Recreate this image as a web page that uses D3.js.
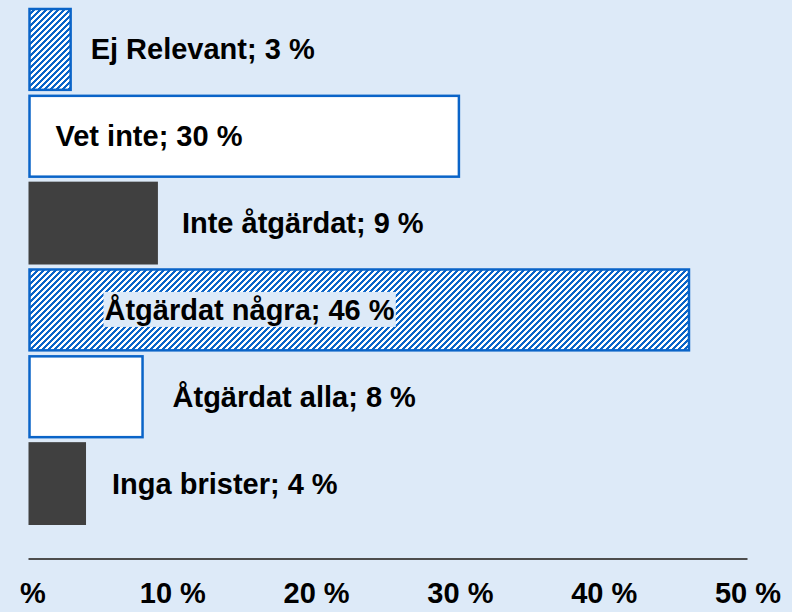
<!DOCTYPE html>
<html>
<head>
<meta charset="utf-8">
<script src="https://cdn.jsdelivr.net/npm/d3@7"></script>
<style>
  html, body { margin: 0; padding: 0; background: #ddeaf8; }
  text { font-family: "Liberation Sans", Arial, sans-serif; font-weight: bold; fill: #000; }
</style>
</head>
<body>
<div class="chart"></div>
<script>
// categories listed bottom to top, as in the source chart
var categories = ["Inga brister", "Åtgärdat alla", "Åtgärdat några", "Inte åtgärdat", "Vet inte", "Ej Relevant"];
var values = [4, 8, 46, 9, 30, 3];
var fills = ["dark", "white", "hatch", "dark", "white", "hatch"];
var ticks = [0, 10, 20, 30, 40, 50];
var tickLabels = ["%", "10 %", "20 %", "30 %", "40 %", "50 %"];

var width = 792, height = 612;

var svg = d3.select(".chart")
    .append("svg")
    .attr("width", width)
    .attr("height", height);

svg.append("rect")
    .attr("width", width)
    .attr("height", height)
    .attr("fill", "#ddeaf8");

// stepped "/" hatch, drawn pixel by pixel so it stays crisp
var defs = svg.append("defs");
var pat = defs.append("pattern")
    .attr("id", "hatch")
    .attr("patternUnits", "userSpaceOnUse")
    .attr("width", 6)
    .attr("height", 6);
pat.append("rect").attr("width", 6).attr("height", 6).attr("fill", "#fff");
d3.range(6).forEach(function(r) {
    d3.range(3).forEach(function(k) {
        pat.append("rect")
            .attr("x", (6 - r + k) % 6)
            .attr("y", r)
            .attr("width", 1)
            .attr("height", 1)
            .attr("fill", "#0a64c8")
            .attr("shape-rendering", "crispEdges");
    });
});

var x = d3.scaleLinear()
    .domain([0, 50])
    .range([28.5, 747.5]);

var y = d3.scaleBand()
    .domain(categories.slice().reverse())
    .range([8, 525])
    .paddingInner(0.046)
    .paddingOuter(0);

var fillOf = {
    dark: "#404040",
    white: "#ffffff",
    hatch: "url(#hatch)"
};

var data = categories.map(function(c, i) {
    return { cat: c, val: values[i], kind: fills[i] };
});

svg.selectAll("rect.bar")
    .data(data)
    .enter().append("rect")
    .attr("class", "bar")
    .attr("x", function(d) { return d.kind == "dark" ? x(0) : x(0) + 1; })
    .attr("y", function(d) { return d.kind == "dark" ? y(d.cat) : y(d.cat) + 1; })
    .attr("width", function(d) { return d.kind == "dark" ? x(d.val) - x(0) : x(d.val) - x(0) - 2; })
    .attr("height", function(d) { return d.kind == "dark" ? y.bandwidth() : y.bandwidth() - 2; })
    .attr("fill", function(d) { return fillOf[d.kind]; })
    .attr("stroke", function(d) { return d.kind == "dark" ? "none" : "#0a64c8"; })
    .attr("stroke-width", 2.5);

// label start relative to bar end (outside) or to axis origin (inside)
var labelOffset = {
    "Ej Relevant": 19,
    "Vet inte": 27,
    "Inte åtgärdat": 24,
    "Åtgärdat några": 76,
    "Åtgärdat alla": 29,
    "Inga brister": 26
};

function labelX(d) {
    var base = d.val >= 20 ? x(0) : x(d.val);
    return base + labelOffset[d.cat];
}

var labels = svg.selectAll("g.lab")
    .data(data)
    .enter().append("g")
    .attr("class", "lab")
    .attr("transform", function(d) {
        return "translate(" + labelX(d) + "," + (y(d.cat) + y.bandwidth() / 2 + 10) + ")";
    });

labels.append("text")
    .attr("font-size", 29)
    .text(function(d) { return d.cat + "; " + d.val + " %"; })
    .each(function(d) {
        if (d.kind == "hatch" && d.val >= 20) {
            var b = this.getBBox();
            d3.select(this.parentNode).insert("rect", "text")
                .attr("x", b.x - 1)
                .attr("y", -28)
                .attr("width", b.width + 2)
                .attr("height", 35)
                .attr("fill", "#ddeaf8");
        }
    });

// axis
var axisY = 559;
svg.append("line")
    .attr("x1", x(0))
    .attr("x2", x(50))
    .attr("y1", axisY)
    .attr("y2", axisY)
    .attr("stroke", "#4d4d4d")
    .attr("stroke-width", 2);

var xAxis = d3.axisBottom(x)
    .tickValues(ticks)
    .tickSize(0)
    .tickFormat(function(d, i) { return tickLabels[i]; });

var gx = svg.append("g")
    .attr("transform", "translate(0," + axisY + ")")
    .call(xAxis);
gx.select(".domain").remove();
gx.selectAll("text")
    .attr("y", 44)
    .attr("dy", 0)
    .attr("dx", function(d, i) { return i == 0 ? 4 : 0; })
    .attr("font-size", 29)
    .attr("font-family", "Liberation Sans, Arial, sans-serif")
    .attr("font-weight", "bold")
    .attr("fill", "#000");
</script>
</body>
</html>
